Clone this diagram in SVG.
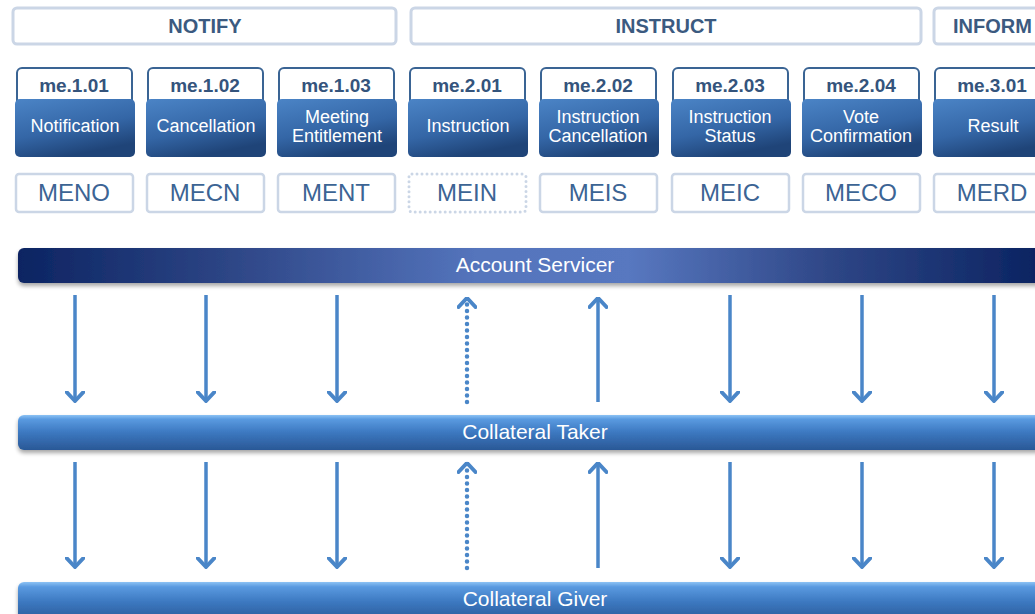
<svg xmlns="http://www.w3.org/2000/svg" width="1035" height="614" viewBox="0 0 1035 614">
<defs>
<linearGradient id="blueBox" x1="0" y1="0" x2="0.4" y2="1">
<stop offset="0" stop-color="#4b84c6"/>
<stop offset="0.6" stop-color="#3466a6"/>
<stop offset="1" stop-color="#1f4478"/>
</linearGradient>
<linearGradient id="asGrad" gradientUnits="userSpaceOnUse" x1="18" y1="0" x2="1035" y2="0">
<stop offset="0" stop-color="#0c2462"/>
<stop offset="0.2" stop-color="#2c4484"/>
<stop offset="0.45" stop-color="#5474bc"/>
<stop offset="0.6" stop-color="#5878c0"/>
<stop offset="0.8" stop-color="#2e4686"/>
<stop offset="1" stop-color="#0c2462"/>
</linearGradient>
<linearGradient id="barGrad" x1="0" y1="0" x2="0" y2="1">
<stop offset="0" stop-color="#8cc2f4"/>
<stop offset="0.12" stop-color="#5a9ae0"/>
<stop offset="0.5" stop-color="#3c78c0"/>
<stop offset="1" stop-color="#2a5896"/>
</linearGradient>
<marker id="head" viewBox="0 0 12 20" refX="10.5" refY="10" markerWidth="12" markerHeight="20" markerUnits="userSpaceOnUse" orient="auto">
<path d="M1.5,1.5 L10.5,10 L1.5,18.5" fill="none" stroke="#4a86c8" stroke-width="4" stroke-linecap="round" stroke-linejoin="round"/>
</marker>
<filter id="sh" x="-5%" y="-30%" width="110%" height="180%">
<feGaussianBlur in="SourceAlpha" stdDeviation="2"/>
<feOffset dx="0" dy="3" result="b"/>
<feComponentTransfer><feFuncA type="linear" slope="0.35"/></feComponentTransfer>
<feMerge><feMergeNode/><feMergeNode in="SourceGraphic"/></feMerge>
</filter>
</defs>
<style>
.hdr{fill:#fff;stroke:#cbd6e6;stroke-width:3}
.hdrt{font-family:"Liberation Sans",Arial,sans-serif;font-weight:bold;font-size:20px;fill:#3b5a80;text-anchor:middle}
.lbl{fill:#fff;stroke:#3a6494;stroke-width:2}
.lblt{font-family:"Liberation Sans",Arial,sans-serif;font-weight:bold;font-size:19px;fill:#34547c;text-anchor:middle}
.blue{fill:url(#blueBox)}
.bt{font-family:"Liberation Sans",Arial,sans-serif;font-size:18px;fill:#fff;text-anchor:middle}
.code{fill:#fff;stroke:#cbd6e6;stroke-width:2.5}
.codet{font-family:"Liberation Sans",Arial,sans-serif;font-size:24px;fill:#3c6494;text-anchor:middle}
.bar{font-family:"Liberation Sans",Arial,sans-serif;font-size:21px;fill:#fff;text-anchor:middle}
.ar{stroke:#4a86c8;stroke-width:3.5;fill:none;marker-end:url(#head)}
.dot{stroke-dasharray:0 6.5;stroke-linecap:round;stroke-width:4.5}
</style>

<g id="hdr-notify"><rect class="hdr" x="13" y="8" width="383" height="36" rx="4"/><text class="hdrt" x="205" y="33">NOTIFY</text></g>
<g id="hdr-instruct"><rect class="hdr" x="411" y="8" width="510" height="36" rx="4"/><text class="hdrt" x="666" y="33">INSTRUCT</text></g>
<g id="hdr-inform"><rect class="hdr" x="934" y="8" width="140" height="36" rx="4"/><text class="hdrt" x="953" y="33" style="text-anchor:start">INFORM</text></g>

<g id="me101"><rect class="lbl" x="17" y="68" width="115" height="38" rx="5"/><text class="lblt" x="74" y="92">me.1.01</text><rect class="blue" x="15" y="99" width="120" height="58" rx="5"/><text class="bt" x="75" y="132">Notification</text><rect class="code" x="16" y="174" width="117" height="38" rx="3"/><text class="codet" x="74" y="201">MENO</text></g>
<g id="me102"><rect class="lbl" x="148" y="68" width="115" height="38" rx="5"/><text class="lblt" x="205" y="92">me.1.02</text><rect class="blue" x="146" y="99" width="120" height="58" rx="5"/><text class="bt" x="206" y="132">Cancellation</text><rect class="code" x="147" y="174" width="117" height="38" rx="3"/><text class="codet" x="205" y="201">MECN</text></g>
<g id="me103"><rect class="lbl" x="279" y="68" width="115" height="38" rx="5"/><text class="lblt" x="336" y="92">me.1.03</text><rect class="blue" x="277" y="99" width="120" height="58" rx="5"/><text class="bt" x="337" y="123">Meeting</text><text class="bt" x="337" y="142">Entitlement</text><rect class="code" x="278" y="174" width="117" height="38" rx="3"/><text class="codet" x="336" y="201">MENT</text></g>
<g id="me201"><rect class="lbl" x="410" y="68" width="115" height="38" rx="5"/><text class="lblt" x="467" y="92">me.2.01</text><rect class="blue" x="408" y="99" width="120" height="58" rx="5"/><text class="bt" x="468" y="132">Instruction</text><rect class="code" x="409" y="174" width="117" height="38" rx="3" style="stroke-dasharray:0 5;stroke-linecap:round;stroke-width:3"/><text class="codet" x="467" y="201">MEIN</text></g>
<g id="me202"><rect class="lbl" x="541" y="68" width="115" height="38" rx="5"/><text class="lblt" x="598" y="92">me.2.02</text><rect class="blue" x="539" y="99" width="120" height="58" rx="5"/><text class="bt" x="598" y="123">Instruction</text><text class="bt" x="598" y="142">Cancellation</text><rect class="code" x="540" y="174" width="117" height="38" rx="3"/><text class="codet" x="598" y="201">MEIS</text></g>
<g id="me203"><rect class="lbl" x="673" y="68" width="115" height="38" rx="5"/><text class="lblt" x="730" y="92">me.2.03</text><rect class="blue" x="671" y="99" width="120" height="58" rx="5"/><text class="bt" x="730" y="123">Instruction</text><text class="bt" x="730" y="142">Status</text><rect class="code" x="672" y="174" width="117" height="38" rx="3"/><text class="codet" x="730" y="201">MEIC</text></g>
<g id="me204"><rect class="lbl" x="804" y="68" width="115" height="38" rx="5"/><text class="lblt" x="861" y="92">me.2.04</text><rect class="blue" x="802" y="99" width="120" height="58" rx="5"/><text class="bt" x="861" y="123">Vote</text><text class="bt" x="861" y="142">Confirmation</text><rect class="code" x="803" y="174" width="117" height="38" rx="3"/><text class="codet" x="861" y="201">MECO</text></g>
<g id="me301"><rect class="lbl" x="935" y="68" width="115" height="38" rx="5"/><text class="lblt" x="992" y="92">me.3.01</text><rect class="blue" x="933" y="99" width="120" height="58" rx="5"/><text class="bt" x="993" y="132">Result</text><rect class="code" x="934" y="174" width="117" height="38" rx="3"/><text class="codet" x="992" y="201">MERD</text></g>

<g id="account-servicer"><rect x="18" y="248" width="1040" height="35" rx="6" fill="url(#asGrad)" filter="url(#sh)"/><text class="bar" x="535" y="272">Account Servicer</text></g>
<g id="collateral-taker"><rect x="18" y="415" width="1040" height="35" rx="6" fill="url(#barGrad)" filter="url(#sh)"/><text class="bar" x="535" y="439">Collateral Taker</text></g>
<g id="collateral-giver"><rect x="18" y="582" width="1040" height="40" rx="6" fill="url(#barGrad)" filter="url(#sh)"/><text class="bar" x="535" y="606">Collateral Giver</text></g>

<g id="connectors">
<path class="ar" d="M75,295 V401"/>
<path class="ar" d="M206,295 V401"/>
<path class="ar" d="M337,295 V401"/>
<path class="ar dot" d="M467,402 V298"/>
<path class="ar" d="M598,402 V298"/>
<path class="ar" d="M730,295 V401"/>
<path class="ar" d="M862,295 V401"/>
<path class="ar" d="M994,295 V401"/>
<path class="ar" d="M75,462 V567"/>
<path class="ar" d="M206,462 V567"/>
<path class="ar" d="M337,462 V567"/>
<path class="ar dot" d="M467,568 V463"/>
<path class="ar" d="M598,568 V463"/>
<path class="ar" d="M730,462 V567"/>
<path class="ar" d="M862,462 V567"/>
<path class="ar" d="M994,462 V567"/>
</g>
</svg>
